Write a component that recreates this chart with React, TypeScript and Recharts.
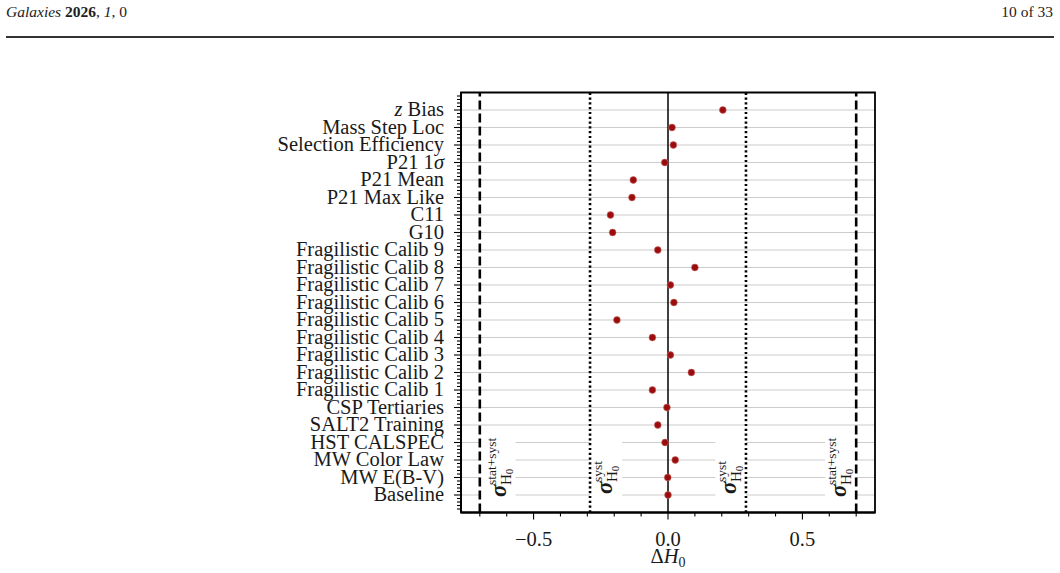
import {
  ComposedChart,
  ReferenceArea,
  ReferenceLine,
  Scatter,
  XAxis,
  YAxis,
} from "recharts";

// bottom row first
const categories = [
  "Baseline",
  "MW E(B-V)",
  "MW Color Law",
  "HST CALSPEC",
  "SALT2 Training",
  "CSP Tertiaries",
  "Fragilistic Calib 1",
  "Fragilistic Calib 2",
  "Fragilistic Calib 3",
  "Fragilistic Calib 4",
  "Fragilistic Calib 5",
  "Fragilistic Calib 6",
  "Fragilistic Calib 7",
  "Fragilistic Calib 8",
  "Fragilistic Calib 9",
  "G10",
  "C11",
  "P21 Max Like",
  "P21 Mean",
  "P21 1σ",
  "Selection Efficiency",
  "Mass Step Loc",
  "z Bias",
];

const deltaH0 = [
  0.0, -0.001, 0.027, -0.011, -0.038, -0.004, -0.058, 0.087, 0.009, -0.058,
  -0.19, 0.022, 0.009, 0.1, -0.038, -0.206, -0.214, -0.134, -0.129, -0.012,
  0.02, 0.015, 0.204,
];

const xMajorTicks = [-0.5, 0, 0.5];
const xTickLabels = ["\u22120.5", "0.0", "0.5"];

const sigmaStatSyst = 0.7;
const sigmaSyst = 0.29;

const xDomain = [-0.77, 0.77];
const yDomain = [-1, categories.length];

const rows = categories.map((name, i) => ({ name, row: i, dh: deltaH0[i] }));
const yMajorTicks = categories.map((_, i) => i);

// minor ticks every 0.1 on x, every 0.2 on y
const xMinorTicks = Array.from({ length: 15 }, (_, i) => (i - 7) / 10);
const yMinorTicks = Array.from(
  { length: (categories.length + 1) * 5 - 1 },
  (_, i) => Math.round((-1 + (i + 1) * 0.2) * 10) / 10
);

const FONT = "'Liberation Serif', 'Times New Roman', serif";
const INK = "#1a1a1a";

// plot box size in px, used to turn tick lengths into axis units
const MARGIN = { top: 92.5, right: 185, bottom: 20, left: 261 };
const Y_AXIS_W = 200;
const X_AXIS_H = 40.5;
const PLOT_W = 1060 - MARGIN.left - Y_AXIS_W - MARGIN.right;
const PLOT_H = 573 - MARGIN.top - MARGIN.bottom - X_AXIS_H;
const xPerPx = (xDomain[1] - xDomain[0]) / PLOT_W;
const yPerPx = (yDomain[1] - yDomain[0]) / PLOT_H;

const isMajorY = (v: number) => Math.abs(v - Math.round(v)) < 1e-6;
const isMajorX = (v: number) => xMajorTicks.some((t) => Math.abs(t - v) < 1e-6);

const renderName = (name: string) => {
  if (name === "z Bias")
    return (
      <>
        <tspan fontStyle="italic">z</tspan> Bias
      </>
    );
  if (name === "P21 1σ")
    return (
      <>
        P21 1<tspan fontStyle="italic">σ</tspan>
      </>
    );
  return name;
};

const YTick = (props: any) => {
  const name = categories[Math.round(props.payload.value)];
  return (
    <text x={props.x - 17} y={props.y + 6} textAnchor="end" fontSize={20.5} fontFamily={FONT} fill={INK}>
      {renderName(name)}
    </text>
  );
};

const XTick = (props: any) => {
  const idx = xMajorTicks.findIndex((t) => Math.abs(t - props.payload.value) < 1e-6);
  return (
    <text x={props.x} y={props.y + 33} textAnchor="middle" fontSize={20.5} fontFamily={FONT} fill={INK}>
      {xTickLabels[idx]}
    </text>
  );
};

const XLabel = (props: any) => {
  const vb = props.viewBox || {};
  return (
    <text
      x={vb.x + vb.width / 2}
      y={vb.y + 50}
      textAnchor="middle"
      fontSize={20.5}
      fontFamily={FONT}
      fill={INK}
    >
      Δ<tspan fontStyle="italic">H</tspan>
      <tspan fontSize={14} dy={4}>
        0
      </tspan>
    </text>
  );
};

// white box with rotated sigma label
const sigmaBox = (sup: string, lift: number) => (props: any) => {
  const { x, y, width, height } = props;
  const ax = x + width - 10;
  const ay = y + height - lift;
  return (
    <g>
      <rect x={x} y={y} width={width} height={height} fill="#fff" />
      <g transform={`translate(${ax},${ay}) rotate(-90)`} fontFamily={FONT} fill={INK}>
        <text x={0} y={0} fontSize={23} fontStyle="italic" fontWeight="bold">
          σ
        </text>
        <text x={12} y={5} fontSize={15}>
          H
          <tspan fontSize={11} dy={2}>
            0
          </tspan>
        </text>
        <text x={12} y={-10} fontSize={13.5}>
          {sup}
        </text>
      </g>
    </g>
  );
};

const boxes = [
  { x1: -sigmaStatSyst, x2: -0.567, sup: "stat+syst", lift: 2 },
  { x1: -sigmaSyst, x2: -0.17, sup: "syst", lift: 5 },
  { x1: 0.176, x2: sigmaSyst, sup: "syst", lift: 5 },
  { x1: 0.584, x2: sigmaStatSyst, sup: "stat+syst", lift: 2 },
];

const Dot = (props: any) => (
  <circle cx={props.cx} cy={props.cy} r={3.4} fill="#9b0c0c" stroke="#c86a6a" strokeWidth={0.6} />
);

export default function App() {
  return (
    <div
      style={{
        position: "absolute",
        left: 0,
        top: 0,
        width: 1060,
        height: 573,
        background: "#fff",
        fontFamily: FONT,
      }}
    >
      <div style={{ position: "absolute", left: 6, top: 3, fontSize: 15.5, color: "#222" }}>
        <i>Galaxies</i> <b>2026</b>, <i>1</i>, 0
      </div>
      <div style={{ position: "absolute", right: 7, top: 3, fontSize: 15.5, color: "#222" }}>
        10 of 33
      </div>
      <div
        style={{
          position: "absolute",
          left: 6,
          top: 36,
          width: 1048,
          height: 2,
          background: "#333",
        }}
      />
      <div style={{ position: "absolute", left: 0, top: 0 }}>
        <ComposedChart width={1060} height={573} data={rows} margin={MARGIN}>
          {categories.map((c, i) => (
            <ReferenceLine key={c} y={i} stroke="#cccccc" strokeWidth={1.1} zIndex={50} />
          ))}
          {boxes.map((b, i) => (
            <ReferenceArea
              key={i}
              x1={b.x1}
              x2={b.x2}
              y1={-0.23}
              y2={3.32}
              fill="#fff"
              fillOpacity={1}
              stroke="none"
              zIndex={150}
              shape={sigmaBox(b.sup, b.lift)}
            />
          ))}
          <ReferenceLine x={-sigmaStatSyst} stroke="#000" strokeWidth={2.6} strokeDasharray="9 4" zIndex={400} />
          <ReferenceLine x={sigmaStatSyst} stroke="#000" strokeWidth={2.6} strokeDasharray="9 4" zIndex={400} />
          <ReferenceLine x={-sigmaSyst} stroke="#000" strokeWidth={2.6} strokeDasharray="2.2 2.6" zIndex={400} />
          <ReferenceLine x={sigmaSyst} stroke="#000" strokeWidth={2.6} strokeDasharray="2.2 2.6" zIndex={400} />
          <ReferenceLine x={0} stroke="#000" strokeWidth={1.5} zIndex={400} />
          {/* tick marks, outward */}
          {yMinorTicks.map((v) => (
            <ReferenceLine
              key={`yt${v}`}
              segment={[
                { x: xDomain[0], y: v },
                { x: xDomain[0] - (isMajorY(v) ? 7 : 4) * xPerPx, y: v },
              ]}
              stroke="#000"
              strokeWidth={1.1}
              ifOverflow="visible"
              zIndex={560}
            />
          ))}
          {xMinorTicks.map((v) => (
            <ReferenceLine
              key={`xt${v}`}
              segment={[
                { x: v, y: yDomain[0] },
                { x: v, y: yDomain[0] - (isMajorX(v) ? 7 : 4) * yPerPx },
              ]}
              stroke="#000"
              strokeWidth={1.1}
              ifOverflow="visible"
              zIndex={560}
            />
          ))}
          {/* frame */}
          <ReferenceArea
            x1={xDomain[0]}
            x2={xDomain[1]}
            y1={yDomain[0]}
            y2={yDomain[1]}
            fill="none"
            fillOpacity={0}
            stroke="#000"
            strokeWidth={1.8}
            ifOverflow="visible"
            zIndex={550}
          />
          <XAxis
            dataKey="dh"
            type="number"
            domain={xDomain}
            allowDataOverflow
            ticks={xMajorTicks}
            interval={0}
            tickSize={0}
            tickMargin={0}
            tick={XTick}
            tickLine={false}
            height={X_AXIS_H}
            axisLine={{ stroke: "#000", strokeWidth: 1.8 }}
            label={<XLabel />}
          />
          <YAxis
            dataKey="row"
            type="number"
            domain={yDomain}
            allowDataOverflow
            ticks={yMajorTicks}
            interval={0}
            tickSize={0}
            tickMargin={0}
            tick={YTick}
            tickLine={false}
            width={Y_AXIS_W}
            axisLine={{ stroke: "#000", strokeWidth: 1.8 }}
          />
          <Scatter data={rows} dataKey="dh" shape={<Dot />} isAnimationActive={false} />
        </ComposedChart>
      </div>
    </div>
  );
}
